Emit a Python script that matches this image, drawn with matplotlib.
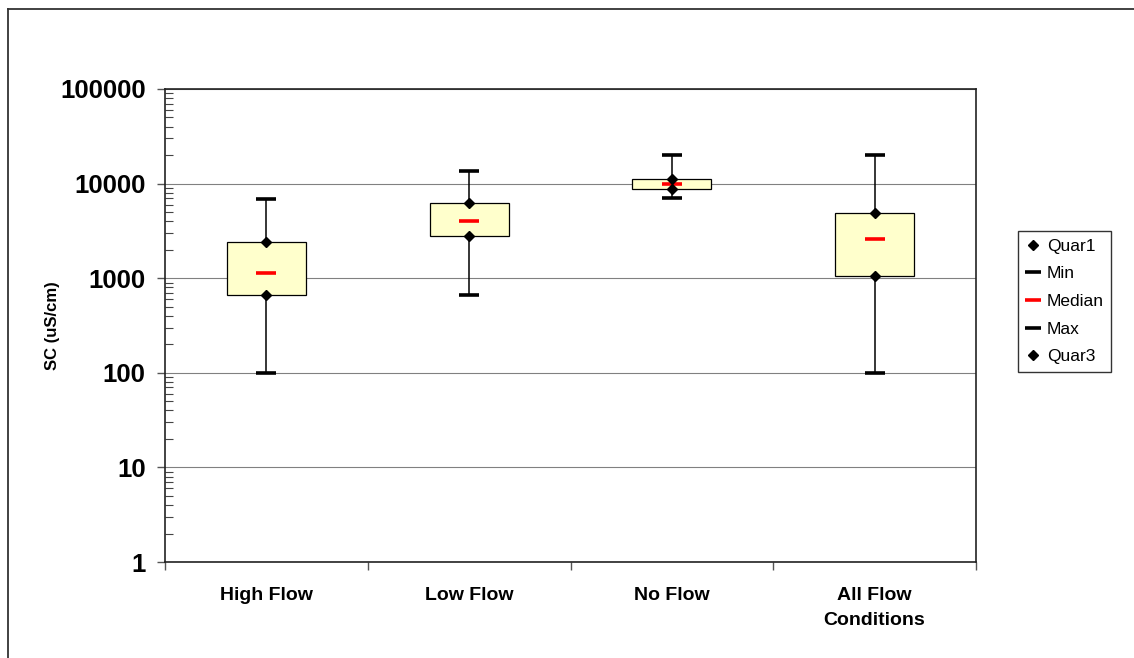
"""Box summary of specific conductance by flow condition, log scale."""
import matplotlib
matplotlib.use("Agg")
import matplotlib.pyplot as plt
from matplotlib.lines import Line2D
from matplotlib.ticker import FixedLocator, LogLocator, NullFormatter

plt.rcParams["font.family"] = ["Liberation Sans", "DejaVu Sans"]

categories = ["High Flow", "Low Flow", "No Flow", "All Flow\nConditions"]
min_vals = [100, 660, 7100, 100]
q1_vals = [660, 2800, 8700, 1060]
median_vals = [1130, 4050, 9900, 2600]
q3_vals = [2400, 6300, 11300, 4900]
max_vals = [6900, 13600, 20000, 20000]

W, H = 1134, 658
fig = plt.figure(figsize=(W / 100, H / 100), dpi=100)
ax = fig.add_axes([165 / W, 1 - 562 / H, (976 - 165) / W, (562 - 89) / H])

x = list(range(len(categories)))

# whiskers (high-low lines), then the boxes on top
ax.vlines(x, min_vals, max_vals, color="black", lw=1.1, zorder=2)
heights = [q3 - q1 for q1, q3 in zip(q1_vals, q3_vals)]
ax.bar(x, heights, bottom=q1_vals, width=0.39, color="#FFFFCC",
       edgecolor="black", linewidth=0.9, zorder=3)

# markers
ax.plot(x, min_vals, ls="none", marker="_", ms=15, mew=2.6, color="black", zorder=4)
ax.plot(x, max_vals, ls="none", marker="_", ms=15, mew=2.6, color="black", zorder=4)
ax.plot(x, median_vals, ls="none", marker="_", ms=15, mew=2.6, color="#FF0000", zorder=4)
ax.plot(x, q1_vals, ls="none", marker="D", ms=5.5, color="black", zorder=5)
ax.plot(x, q3_vals, ls="none", marker="D", ms=5.5, color="black", zorder=5)

ax.set_yscale("log")
ax.set_ylim(1, 100000)
ax.set_xlim(-0.5, len(categories) - 0.5)

ax.yaxis.set_major_locator(FixedLocator([1, 10, 100, 1000, 10000, 100000]))
ax.yaxis.set_minor_locator(LogLocator(base=10, subs=range(2, 10), numticks=20))
ax.yaxis.set_minor_formatter(NullFormatter())
ax.set_yticklabels(["1", "10", "100", "1000", "10000", "100000"],
                   fontsize=18.5, fontweight="bold")
ax.tick_params(axis="y", which="major", direction="out", length=6, width=1, pad=8,
               color="#555555")
ax.tick_params(axis="y", which="minor", direction="in", length=6, width=0.8,
               color="#444444")
ax.grid(axis="y", which="major", color="#808080", lw=0.8, zorder=0)
ax.set_axisbelow(True)

ax.set_xticks(x)
ax.set_xticklabels(categories, fontsize=14, fontweight="bold", linespacing=1.6)
ax.set_xticks([i - 0.5 for i in range(len(categories) + 1)], minor=True)
ax.tick_params(axis="x", which="major", length=0, pad=18)
ax.tick_params(axis="x", which="minor", direction="out", length=6, width=1,
               color="#555555")

ax.set_ylabel("SC (uS/cm)", fontsize=12, fontweight="bold", labelpad=0)

for s in ax.spines.values():
    s.set_linewidth(1.2)
    s.set_color("#222222")

handles = [
    Line2D([], [], ls="none", marker="D", ms=5, color="black"),
    Line2D([], [], ls="none", marker="_", ms=11, mew=2.6, color="black"),
    Line2D([], [], ls="none", marker="_", ms=11, mew=2.6, color="#FF0000"),
    Line2D([], [], ls="none", marker="_", ms=11, mew=2.6, color="black"),
    Line2D([], [], ls="none", marker="D", ms=5, color="black"),
]
labels = ["Quar1", "Min", "Median", "Max", "Quar3"]
leg = fig.legend(handles, labels, loc="center left",
                 bbox_to_anchor=(1018 / W, 1 - 301.5 / H), fontsize=12.5,
                 frameon=True, fancybox=False, edgecolor="black",
                 handlelength=0.8, handletextpad=0.4, labelspacing=0.72,
                 borderpad=0.45, borderaxespad=0)
leg.get_frame().set_linewidth(1.0)

# outer chart border (clipped by the image at right and bottom)
fx, fy = 8 / W, 1 - 9 / H
fig.add_artist(Line2D([fx, fx], [0, fy], transform=fig.transFigure,
                      color="#333333", lw=1.3))
fig.add_artist(Line2D([fx, 1], [fy, fy], transform=fig.transFigure,
                      color="#333333", lw=1.3))

fig.savefig("out.png", dpi=100)
